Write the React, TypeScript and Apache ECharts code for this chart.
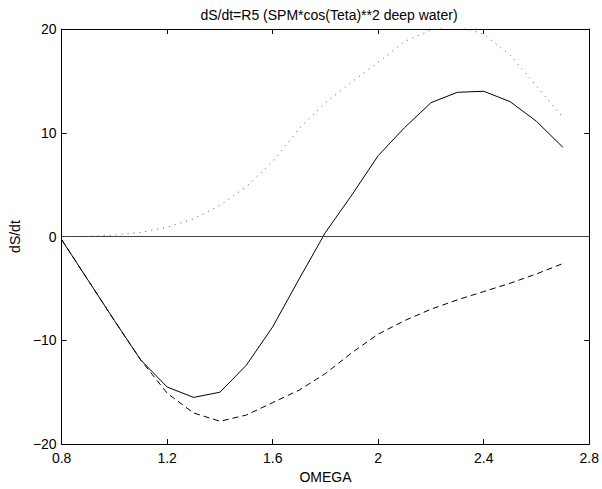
import React, { useEffect, useRef } from "react";
import * as echarts from "echarts";

const omega = [0.8, 0.9, 1.0, 1.1, 1.2, 1.3, 1.4, 1.5, 1.6, 1.7, 1.8, 1.9, 2.0, 2.1, 2.2, 2.3, 2.4, 2.5, 2.6, 2.7];
const solidTotal = [-0.3, -4.2, -8.1, -11.9, -14.5, -15.5, -15.0, -12.4, -8.7, -4.1, 0.4, 4.0, 7.8, 10.5, 12.9, 13.9, 14.0, 13.0, 11.1, 8.6];
const dashedNeg = [-0.3, -4.2, -8.1, -11.9, -15.1, -17.0, -17.8, -17.2, -16.0, -14.8, -13.2, -11.2, -9.4, -8.1, -7.0, -6.1, -5.3, -4.5, -3.6, -2.6];
const dottedPos = [0.0, 0.02, 0.15, 0.4, 0.9, 1.7, 3.0, 4.8, 7.2, 10.4, 12.9, 14.9, 16.8, 18.8, 19.9, 20.3, 19.5, 17.5, 14.5, 11.5];

const xTicks = { min: 0.8, max: 2.8, interval: 0.4 };
const yTicks = { min: -20, max: 20, interval: 10 };

const pairs = (ys: number[]) => omega.map((x, i) => [x, ys[i]]);

const FONT = "Liberation Sans";
const FS = 14;

export default function App() {
  const ref = useRef<HTMLDivElement>(null);
  useEffect(() => {
    if (!ref.current) return;
    const chart = echarts.init(ref.current, null, { renderer: "svg" });
    const fmtX = (v: number) => String(Number(v.toFixed(1)));
    const fmtY = (v: number) => String(Math.round(v)).replace("-", "\u2212");
    const axisLine = { show: true, onZero: false, lineStyle: { color: "#000", width: 1 } };
    const tick = { show: true, inside: true, length: 5, lineStyle: { color: "#000" } };
    chart.setOption({
      animation: false,
      backgroundColor: "#fff",
      title: {
        text: "dS/dt=R5 (SPM*cos(Teta)**2 deep water)",
        left: 324,
        textAlign: "center",
        top: 3,
        textStyle: { fontFamily: FONT, fontSize: FS, fontWeight: "normal", color: "#000" },
      },
      grid: { left: 58, right: 11, top: 29, bottom: 41 },
      xAxis: [
        {
          type: "value",
          ...xTicks,
          name: "OMEGA",
          nameLocation: "middle",
          nameGap: 21,
          nameTextStyle: { fontFamily: FONT, fontSize: FS, color: "#000" },
          axisLine,
          axisTick: tick,
          splitLine: { show: false },
          axisLabel: { fontFamily: FONT, fontSize: FS, color: "#000", margin: 7, formatter: fmtX },
        },
        {
          type: "value",
          ...xTicks,
          position: "top",
          axisLine,
          axisTick: tick,
          splitLine: { show: false },
          axisLabel: { show: false },
        },
      ],
      yAxis: [
        {
          type: "value",
          ...yTicks,
          name: "dS/dt",
          nameLocation: "middle",
          nameGap: 32,
          nameTextStyle: { fontFamily: FONT, fontSize: FS, color: "#000" },
          axisLine,
          axisTick: tick,
          splitLine: { show: false },
          axisLabel: { fontFamily: FONT, fontSize: FS, color: "#000", margin: 5, formatter: fmtY },
        },
        {
          type: "value",
          ...yTicks,
          position: "right",
          axisLine,
          axisTick: tick,
          splitLine: { show: false },
          axisLabel: { show: false },
        },
      ],
      series: [
        {
          type: "line",
          data: pairs(solidTotal),
          showSymbol: false,
          lineStyle: { color: "#000", width: 1 },
          markLine: {
            silent: true,
            symbol: "none",
            label: { show: false },
            lineStyle: { color: "#444", width: 1, type: "solid" },
            data: [{ yAxis: 0 }],
          },
        },
        {
          type: "line",
          data: pairs(dashedNeg),
          showSymbol: false,
          lineStyle: { color: "#000", width: 1, type: [6, 4] },
        },
        {
          type: "line",
          data: pairs(dottedPos),
          showSymbol: false,
          lineStyle: { color: "#555", width: 1, type: [1, 5] },
        },
      ],
    });
    return () => chart.dispose();
  }, []);
  return (
    <div
      ref={ref}
      style={{ position: "fixed", left: 0, top: 0, width: 602, height: 489 }}
    />
  );
}
